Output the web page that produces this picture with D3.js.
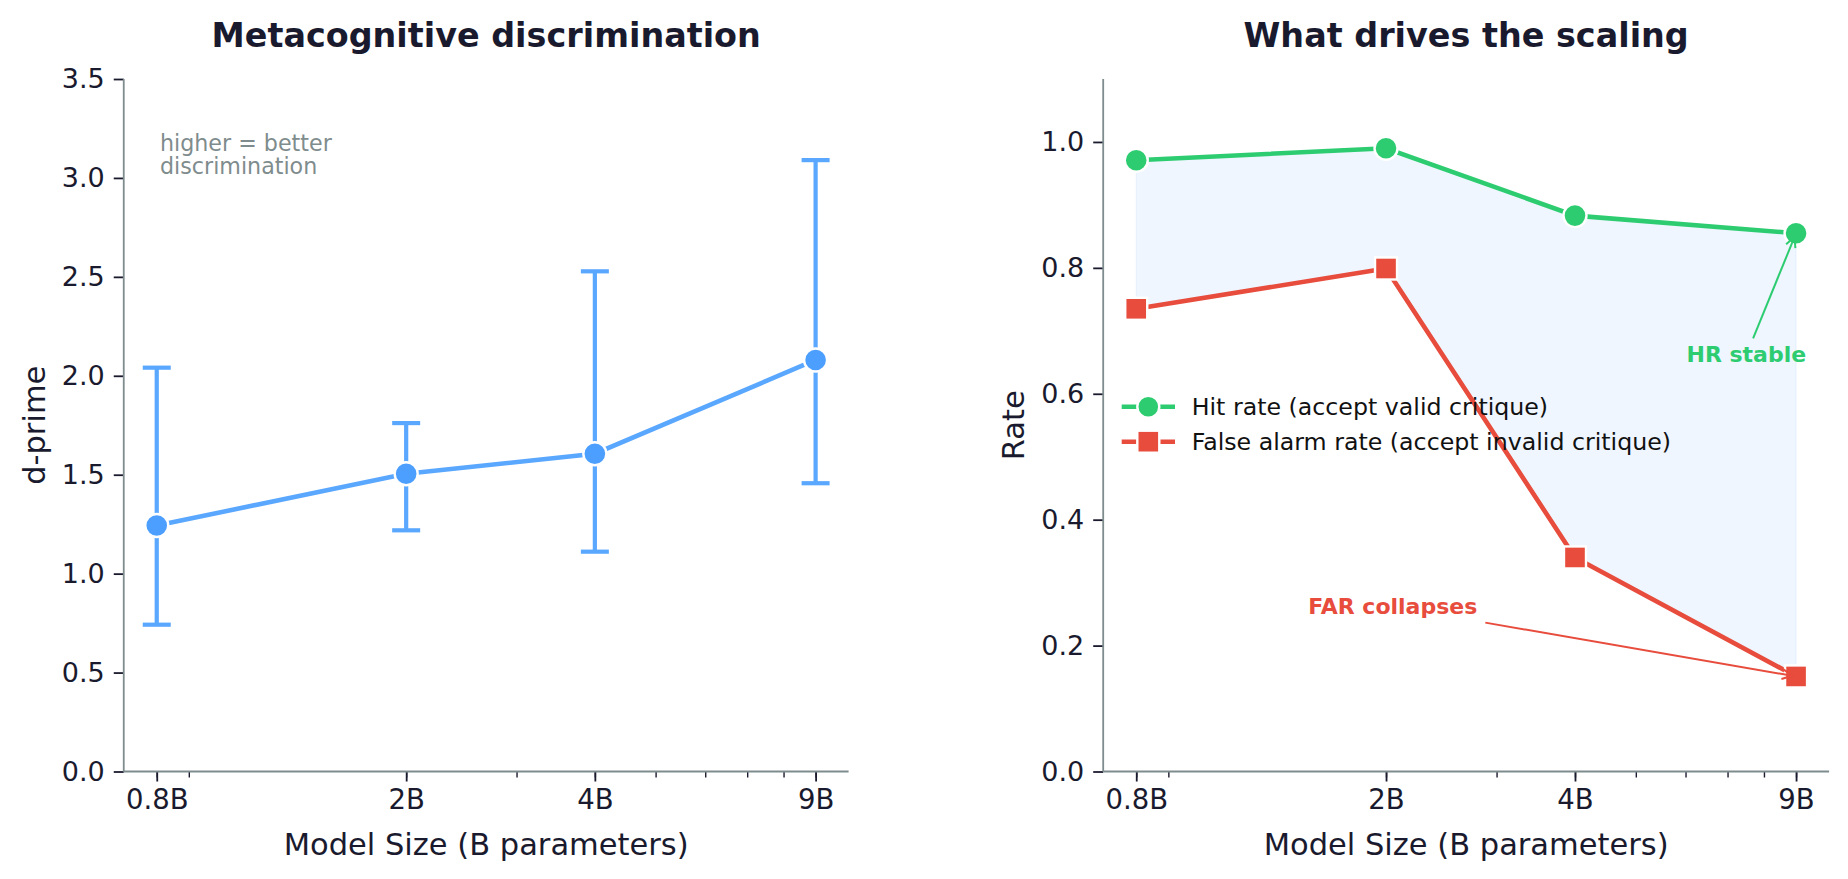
<!DOCTYPE html>
<html><head><meta charset="utf-8">
<script src="https://cdn.jsdelivr.net/npm/d3@7/dist/d3.min.js"></script>
<style>
html,body{margin:0;padding:0;background:#fff;}
svg{display:block;font-family:"DejaVu Sans",sans-serif;}
</style></head>
<body>
<svg id="chart" width="1848" height="879"></svg>
<script>
// ---------- data ----------
const sizes = [0.8, 2, 4, 9];
const sizeLabels = ["0.8B", "2B", "4B", "9B"];
const dprime = [1.243, 1.505, 1.606, 2.080];
const dprimeLow = [0.742, 1.219, 1.111, 1.457];
const dprimeHigh = [2.041, 1.761, 2.528, 3.090];
const hitRate = [0.971, 0.990, 0.883, 0.855];
const falseAlarmRate = [0.735, 0.799, 0.340, 0.151];
const dprimeTicks = [0, 0.5, 1, 1.5, 2, 2.5, 3, 3.5];
const rateTicks = [0, 0.2, 0.4, 0.6, 0.8, 1.0];
const minorTicks = [0.8, 0.9, 2, 3, 4, 5, 6, 7, 8, 9];
const seriesNames = ["Hit rate (accept valid critique)", "False alarm rate (accept invalid critique)"];

// ---------- style ----------
const DARK = "#1a1a2e", SPINE = "#7f8c8d", BLUE = "#5aa7ff", BLUE_M = "#4d9fff",
      GREEN = "#2ecc71", RED = "#e74c3c";

const svg = d3.select("#chart");
const xDomain = [0.8 / Math.exp(0.1212), 9 * Math.exp(0.1212)];

function panel(x0, x1, yDomain, yTicks, title, ylab, ylabX) {
  const top = 79, bottom = 771.5;
  const x = d3.scaleLog().domain(xDomain).range([x0, x1]);
  const y = d3.scaleLinear().domain(yDomain).range([bottom, top]);
  const g = svg.append("g");
  // minor ticks
  g.append("g").attr("transform", `translate(0,${bottom})`)
    .call(d3.axisBottom(x).tickValues(minorTicks).tickSize(6).tickFormat(""))
    .call(a => a.select(".domain").remove())
    .call(a => a.selectAll("line").attr("stroke", DARK).attr("stroke-width", 1.4));
  // major x
  g.append("g").attr("transform", `translate(0,${bottom})`)
    .call(d3.axisBottom(x).tickValues(sizes).tickSize(10).tickPadding(8).tickFormat((d, i) => sizeLabels[i]))
    .call(a => a.select(".domain").remove())
    .call(a => a.selectAll("line").attr("stroke", DARK).attr("stroke-width", 1.8))
    .call(a => a.selectAll("text").attr("fill", DARK).attr("font-size", 27.5).attr("font-family", "DejaVu Sans"));
  // y axis
  g.append("g").attr("transform", `translate(${x0},0)`)
    .call(d3.axisLeft(y).tickValues(yTicks).tickSize(10).tickPadding(9).tickFormat(d3.format(".1f")))
    .call(a => a.select(".domain").remove())
    .call(a => a.selectAll("line").attr("stroke", DARK).attr("stroke-width", 1.8))
    .call(a => a.selectAll("text").attr("fill", DARK).attr("font-size", 27).attr("font-family", "DejaVu Sans"));
  // spines
  g.append("line").attr("x1", x0).attr("x2", x0).attr("y1", top).attr("y2", bottom)
    .attr("stroke", SPINE).attr("stroke-width", 1.8);
  g.append("line").attr("x1", x0).attr("x2", x1).attr("y1", bottom).attr("y2", bottom)
    .attr("stroke", SPINE).attr("stroke-width", 1.8);
  // title
  svg.append("text").attr("x", (x0 + x1) / 2).attr("y", 47).attr("text-anchor", "middle")
    .attr("font-size", 33.4).attr("font-weight", "bold").attr("fill", DARK).text(title);
  // x label
  svg.append("text").attr("x", (x0 + x1) / 2).attr("y", 855).attr("text-anchor", "middle")
    .attr("font-size", 30.5).attr("fill", DARK).text("Model Size (B parameters)");
  // y label
  svg.append("text").attr("transform", `translate(${ylabX},${(top + bottom) / 2}) rotate(-90)`)
    .attr("text-anchor", "middle").attr("dy", "0.35em")
    .attr("font-size", 30.5).attr("fill", DARK).text(ylab);
  return {x, y, g};
}

// ---------- left panel ----------
const L = panel(123.75, 848.6, [0, 3.5], dprimeTicks, "Metacognitive discrimination", "d-prime", 34);
const lg = L.g;
// error bars
sizes.forEach((s, i) => {
  const cx = L.x(s);
  lg.append("line").attr("x1", cx).attr("x2", cx).attr("y1", L.y(dprimeLow[i])).attr("y2", L.y(dprimeHigh[i]))
    .attr("stroke", BLUE).attr("stroke-width", 4.2);
  [dprimeLow[i], dprimeHigh[i]].forEach(v => {
    lg.append("line").attr("x1", cx - 14).attr("x2", cx + 14).attr("y1", L.y(v)).attr("y2", L.y(v))
      .attr("stroke", BLUE).attr("stroke-width", 4.2);
  });
});
lg.append("path").datum(sizes.map((s, i) => [s, dprime[i]]))
  .attr("d", d3.line().x(d => L.x(d[0])).y(d => L.y(d[1])))
  .attr("fill", "none").attr("stroke", BLUE).attr("stroke-width", 4.6);
lg.selectAll("circle.dp").data(sizes).enter().append("circle")
  .attr("cx", d => L.x(d)).attr("cy", (d, i) => L.y(dprime[i])).attr("r", 11.5)
  .attr("fill", BLUE_M).attr("stroke", "#fff").attr("stroke-width", 2.4);
const note = lg.append("text").attr("x", 160).attr("y", 151).attr("font-size", 22.2).attr("fill", SPINE);
note.append("tspan").attr("x", 160).text("higher = better");
note.append("tspan").attr("x", 160).attr("dy", 23).text("discrimination");

// ---------- right panel ----------
const R = panel(1103.2, 1829.1, [0, 1.1], rateTicks, "What drives the scaling", "Rate", 1013);
const rg = R.g;
const band = sizes.map((s, i) => ({s, hi: hitRate[i], lo: falseAlarmRate[i]}));
rg.insert("path", ":first-child").datum(band)
  .attr("d", d3.area().x(d => R.x(d.s)).y0(d => R.y(d.lo)).y1(d => R.y(d.hi)))
  .attr("fill", "#4a9eff").attr("fill-opacity", 0.09)
  .attr("stroke", "#4a9eff").attr("stroke-opacity", 0.06).attr("stroke-width", 1.5);
rg.append("path").datum(sizes.map((s, i) => [s, hitRate[i]]))
  .attr("d", d3.line().x(d => R.x(d[0])).y(d => R.y(d[1])))
  .attr("fill", "none").attr("stroke", GREEN).attr("stroke-width", 4.6);
rg.append("path").datum(sizes.map((s, i) => [s, falseAlarmRate[i]]))
  .attr("d", d3.line().x(d => R.x(d[0])).y(d => R.y(d[1])))
  .attr("fill", "none").attr("stroke", RED).attr("stroke-width", 4.6);
rg.selectAll("circle.hr").data(sizes).enter().append("circle")
  .attr("cx", d => R.x(d)).attr("cy", (d, i) => R.y(hitRate[i])).attr("r", 11.5)
  .attr("fill", GREEN).attr("stroke", "#fff").attr("stroke-width", 2.4);
rg.selectAll("rect.far").data(sizes).enter().append("rect")
  .attr("x", d => R.x(d) - 11).attr("y", (d, i) => R.y(falseAlarmRate[i]) - 11)
  .attr("width", 22).attr("height", 22)
  .attr("fill", RED).attr("stroke", "#fff").attr("stroke-width", 2.4);

// legend
const legY = [406.7, 441.7];
[GREEN, RED].forEach((c, i) => {
  const lgd = rg.append("g");
  lgd.append("line").attr("x1", 1121.7).attr("x2", 1175).attr("y1", legY[i]).attr("y2", legY[i])
    .attr("stroke", c).attr("stroke-width", 4.6);
  if (i === 0) lgd.append("circle").attr("cx", 1148.3).attr("cy", legY[i]).attr("r", 11)
    .attr("fill", c).attr("stroke", "#fff").attr("stroke-width", 2.4);
  else lgd.append("rect").attr("x", 1148.3 - 11).attr("y", legY[i] - 11).attr("width", 22).attr("height", 22)
    .attr("fill", c).attr("stroke", "#fff").attr("stroke-width", 2.4);
  lgd.append("text").attr("x", 1191.7).attr("y", legY[i]).attr("dy", "0.36em")
    .attr("font-size", 23.7).attr("fill", "#111").text(seriesNames[i]);
});

// annotations
function annotate(text, tx, ty, px, py, color) {
  const t = rg.append("text").attr("x", R.x(tx)).attr("y", R.y(ty)).attr("text-anchor", "middle")
    .attr("font-size", 22).attr("font-weight", "bold").attr("fill", color).text(text);
  const bb = t.node().getBBox();
  const cx = bb.x + bb.width / 2, cy = bb.y + bb.height / 2;
  const ex = R.x(px), ey = R.y(py);
  const dx = ex - cx, dy = ey - cy;
  const hw = bb.width / 2 + 8, hh = bb.height / 2 + 4;
  const tt = Math.min(hw / Math.abs(dx || 1e-9), hh / Math.abs(dy || 1e-9));
  const sx = cx + dx * tt, sy = cy + dy * tt;
  const len = Math.hypot(ex - sx, ey - sy);
  const ux = (ex - sx) / len, uy = (ey - sy) / len;
  const fx = ex - ux * 4, fy = ey - uy * 4;
  rg.append("line").attr("x1", sx).attr("y1", sy).attr("x2", fx).attr("y2", fy)
    .attr("stroke", color).attr("stroke-width", 2);
  const hl = 10, hwid = 5;
  const bx = fx - ux * hl, by = fy - uy * hl;
  rg.append("path")
    .attr("d", `M${bx - uy * hwid},${by + ux * hwid} L${fx},${fy} L${bx + uy * hwid},${by - ux * hwid}`)
    .attr("fill", "none").attr("stroke", color).attr("stroke-width", 2);
}
annotate("HR stable", 7.5, 0.65, 9, hitRate[3], GREEN);
annotate("FAR collapses", 2.05, 0.25, 9, falseAlarmRate[3], RED);
</script>
</body></html>
